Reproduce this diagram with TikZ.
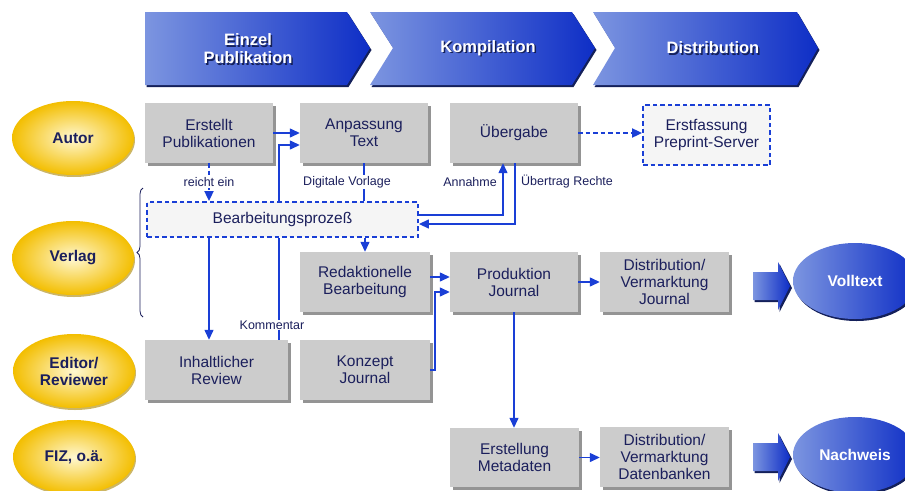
\documentclass[tikz,border=0pt]{standalone}
\usepackage{fontspec}
\setmainfont{Liberation Sans}
\usetikzlibrary{shapes.geometric,arrows.meta,shadows,decorations.pathreplacing,calc}
\definecolor{navy}{HTML}{1B1F5C}
\definecolor{lnblue}{HTML}{1A3FD6}
\definecolor{boxgray}{HTML}{CCCCCC}
\definecolor{chevL}{HTML}{7C95E0}
\definecolor{chevR}{HTML}{0E2EC6}
\definecolor{chevS}{HTML}{14205A}
\definecolor{yelIn}{HTML}{FFF8D2}
\definecolor{yelOut}{HTML}{F3BE00}
\tikzset{
  gbox/.style={rectangle, fill=boxgray, text=navy, align=center,
    font=\fontsize{15.5}{17}\selectfont, minimum width=128pt, minimum height=60pt, inner sep=2pt,
    drop shadow={shadow xshift=3pt, shadow yshift=-3pt, opacity=1, fill=black!42}},
  dbox/.style={rectangle, fill=black!4, draw=lnblue, line width=1.8pt, dash pattern=on 4.5pt off 3pt,
    text=navy, align=center, font=\fontsize{15.5}{17}\selectfont, inner sep=2pt},
  yell/.style={ellipse, inner color=yelIn, outer color=yelOut, minimum width=122pt, minimum height=74pt,
    inner sep=0pt, text=navy, align=center, font=\bfseries\fontsize{15.5}{17}\selectfont,
    drop shadow={shadow xshift=1pt, shadow yshift=-2pt, opacity=0.6, fill=yelOut!70!black}},
  bell/.style={ellipse, left color=chevL, right color=chevR, minimum width=124pt, minimum height=76pt,
    inner sep=0pt, text=white, font=\bfseries\fontsize{15.5}{17}\selectfont,
    drop shadow={shadow xshift=1.5pt, shadow yshift=-2pt, opacity=1, fill=chevS}},
  hdr/.style={text=white, align=center, font=\bfseries\fontsize{16.5}{18}\selectfont},
  hdrs/.style={text=chevS, align=center, font=\bfseries\fontsize{16.5}{18}\selectfont},
  lbl/.style={text=navy, font=\fontsize{12.5}{14}\selectfont, inner sep=1pt},
  conn/.style={draw=lnblue, line width=1.3pt},
  arr/.style={conn, -{Triangle[length=10pt,width=9pt]}},
  darr/.style={arr, line width=1.8pt, dash pattern=on 4.5pt off 3pt},
}
\begin{document}
\begin{tikzpicture}[x=1pt,y=-1pt]
\useasboundingbox (0,0) rectangle (905,490);

% header chevrons
\fill[chevS] (146.5,14) -- (348.5,14) -- (371.5,50) -- (348.5,87) -- (146.5,87) -- cycle;
\shade[left color=chevL, right color=chevR] (145,12) -- (347,12) -- (370,48) -- (347,85) -- (145,85) -- cycle;
\fill[chevS] (371.5,14) -- (573.5,14) -- (596.5,50) -- (573.5,87) -- (371.5,87) -- (394.5,50) -- cycle;
\shade[left color=chevL, right color=chevR] (370,12) -- (572,12) -- (595,48) -- (572,85) -- (370,85) -- (393,48) -- cycle;
\fill[chevS] (594.5,14) -- (798.5,14) -- (819.5,50) -- (798.5,87) -- (594.5,87) -- (616.5,50) -- cycle;
\shade[left color=chevL, right color=chevR] (593,12) -- (797,12) -- (818,48) -- (797,85) -- (593,85) -- (615,48) -- cycle;

\node[hdrs] (h1s) at (249.5,50.5) {Einzel\\Publikation};
\node[hdr] (h1) at (248,49) {Einzel\\Publikation};
\node[hdrs] (h2s) at (489.5,49.5) {Kompilation};
\node[hdr] (h2) at (488,48) {Kompilation};
\node[hdrs] (h3s) at (714.5,49.5) {Distribution};
\node[hdr] (h3) at (713,48) {Distribution};

% role ellipses
\node[yell] (autor) at (73,138) {Autor};
\node[yell] (verlag) at (73,258) {Verlag};
\node[yell] (editor) at (74,371) {Editor/\\Reviewer};
\node[yell] (fiz) at (74,457) {FIZ, o.ä.};

% boxes
\node[gbox] (ep) at (209,133) {Erstellt\\Publikationen};
\node[gbox] (at) at (364,133) {Anpassung\\Text};
\node[gbox] (ub) at (514,133) {Übergabe};
\node[dbox, minimum width=127pt, minimum height=60pt] (ef) at (706.5,135) {Erstfassung\\Preprint-Server};
\node[dbox, minimum width=271pt, minimum height=35pt] (bp) at (282.5,219.5) {Bearbeitungsprozeß};
\node[gbox, minimum width=130pt] (rb) at (365,282) {Redaktionelle\\Bearbeitung};
\node[gbox] (pj) at (514,282) {Produktion\\Journal};
\node[gbox, minimum width=129pt] (dj) at (664.5,282) {Distribution/\\Vermarktung\\Journal};
\node[gbox, minimum width=143pt] (ir) at (216.5,370) {Inhaltlicher\\Review};
\node[gbox, minimum width=130pt] (kj) at (365,370) {Konzept\\Journal};
\node[gbox, minimum width=129pt, minimum height=59pt] (em) at (514.5,457.5) {Erstellung\\Metadaten};
\node[gbox, minimum width=129pt] (dd) at (664.5,457) {Distribution/\\Vermarktung\\Datenbanken};

% result ellipses
\node[bell] (voll) at (855,281) {Volltext};
\node[bell] (nach) at (855,455) {Nachweis};

% big arrows
\fill[chevS] (754.5,274) -- (779.5,274) -- (779.5,264) -- (792,288) -- (779.5,312) -- (779.5,302) -- (754.5,302) -- cycle;
\shade[left color=chevL, right color=chevR] (753,272) -- (778,272) -- (778,262) -- (790,286) -- (778,310) -- (778,300) -- (753,300) -- cycle;
\fill[chevS] (754.5,445) -- (779.5,445) -- (779.5,435) -- (792,459) -- (779.5,483) -- (779.5,473) -- (754.5,473) -- cycle;
\shade[left color=chevL, right color=chevR] (753,443) -- (778,443) -- (778,433) -- (790,457) -- (778,481) -- (778,471) -- (753,471) -- cycle;

% brace
\draw[navy, line width=0.8pt, decorate, decoration={brace, amplitude=6pt}] (143,317) -- (143,188);

% connectors
\coordinate (k2) at (279,145);
\coordinate (an) at (503,215);
\coordinate (ur) at (515,224);
\coordinate (r1) at (0,277);
\coordinate (kx2) at (435,292);

\draw[arr] (ep.east) -- (at.west |- ep.east);
\draw[arr] (bp.north -| k2) -- (k2) -- (k2 -| at.west);
\draw[conn] (ir.north -| k2) -- (bp.south -| k2);
\node[lbl, fill=white] (kom) at (272,325) {Kommentar};

\draw[darr] (ep.south) -- (ep.south |- bp.north);
\node[lbl, fill=white] (re) at (209,182) {reicht ein};

\draw[conn] (at.south) -- (at.south |- bp.north);
\node[lbl, fill=white] (dv) at (347,182) {Digitale Vorlage};

\draw[arr] (bp.south -| rb.north) -- (rb.north);
\draw[arr] (bp.south -| ep.south) -- (ir.north -| ep.south);

\draw[arr] (an -| bp.east) -- (an) -- (an |- ub.south);
\node[lbl, anchor=east] (anl) at (498,182) {Annahme};
\draw[arr] (ur |- ub.south) -- (ur) -- (ur -| bp.east);
\node[lbl, anchor=west] (url) at (520,182) {Übertrag Rechte};

\draw[darr] (ub.east) -- (ef.west |- ub.east);

\draw[arr] (rb.east |- r1) -- (pj.west |- r1);
\draw[arr] (kj.east) -- (kj.east -| kx2) -- (kx2) -- (kx2 -| pj.west);
\draw[arr] (pj.east) -- (dj.west);
\draw[arr] (pj.south) -- (pj.south |- em.north);
\draw[arr] (em.east) -- (dd.west |- em.east);
\end{tikzpicture}
\end{document}
